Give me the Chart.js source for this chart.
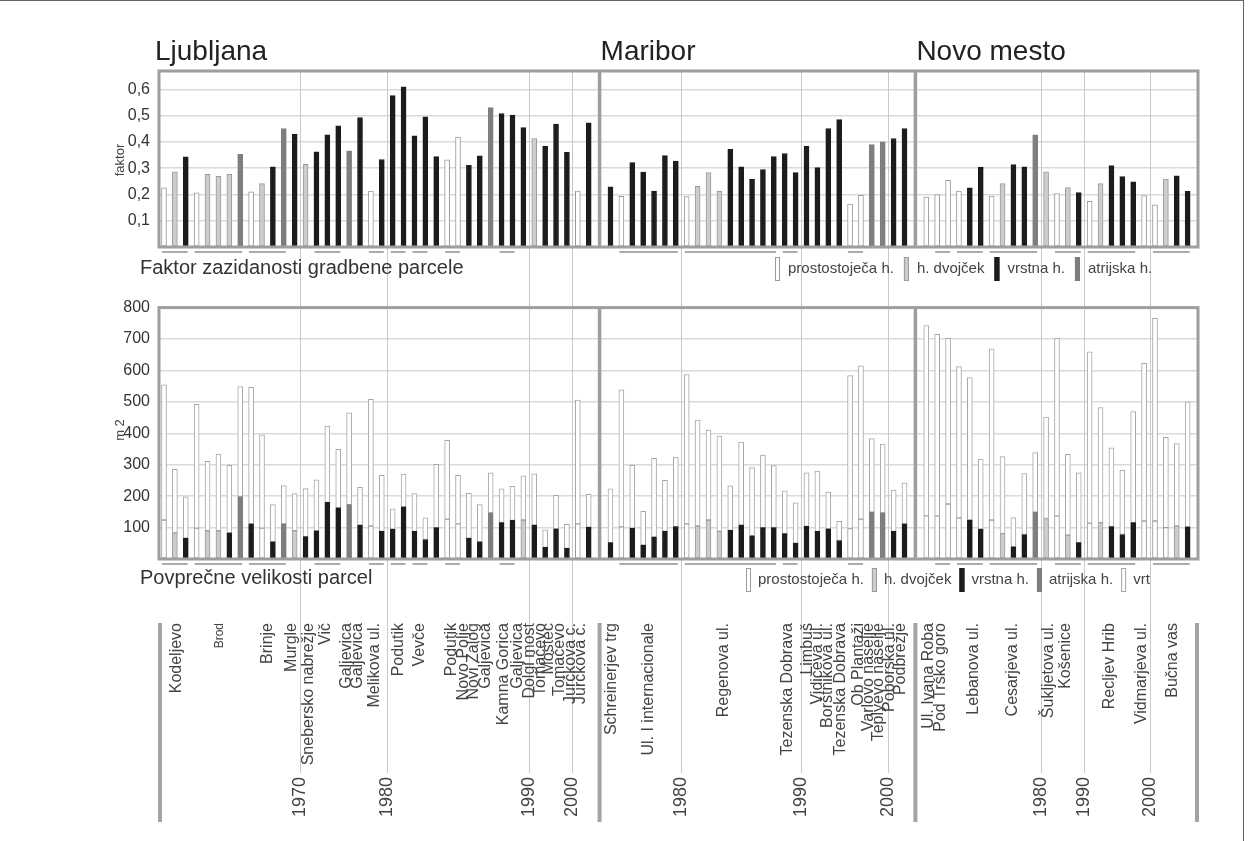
<!DOCTYPE html>
<html>
<head>
<meta charset="utf-8">
<script src="https://cdn.jsdelivr.net/npm/chart.js@4.4.0/dist/chart.umd.min.js"></script>
<style>
  body { margin: 0; background: #fff; }
  #wrap { position: relative; width: 1251px; height: 841px; overflow: hidden; background: #fff; }
  canvas { position: absolute; left: 0; }
  #topChart { top: 0; }
  #bottomChart { top: 290px; }
  .edge-top { position: absolute; left: 0; top: 0; width: 1244px; height: 1px; background: #666; }
  .edge-right { position: absolute; left: 1243px; top: 0; width: 1px; height: 841px; background: #666; }
</style>
</head>
<body>
<div id="wrap">
  <canvas id="topChart" width="1251" height="290"></canvas>
  <canvas id="bottomChart" width="1251" height="551"></canvas>
  <div class="edge-top"></div>
  <div class="edge-right"></div>
</div>
<script>
const FONT = "'Liberation Sans', Arial, sans-serif";

// --- Faktor zazidanosti (building coverage ratio) per estate
const ljFactor = [0.225, 0.286, 0.343, 0.206, 0.277, 0.269, 0.277, 0.353, 0.21, 0.241,
  0.305, 0.451, 0.43, 0.315, 0.362, 0.427, 0.461, 0.366, 0.493, 0.213,
  0.333, 0.576, 0.61, 0.423, 0.496, 0.344, 0.332, 0.418, 0.311, 0.347,
  0.531, 0.508, 0.502, 0.455, 0.413, 0.384, 0.468, 0.36, 0.213, 0.473];
const mbFactor = [0.229, 0.193, 0.321, 0.285, 0.213, 0.348, 0.327, 0.192, 0.231, 0.283,
  0.212, 0.372, 0.305, 0.259, 0.295, 0.344, 0.356, 0.283, 0.384, 0.302,
  0.451, 0.485, 0.163, 0.197, 0.39, 0.40, 0.413, 0.451];
const nmFactor = [0.19, 0.2, 0.254, 0.213, 0.225, 0.304, 0.194, 0.241, 0.314, 0.305,
  0.427, 0.286, 0.203, 0.226, 0.207, 0.174, 0.241, 0.31, 0.268, 0.248,
  0.196, 0.161, 0.259, 0.271, 0.212];

// --- average parcel size (m2) and built part of it
const ljParcel = [554, 285, 198, 492, 311, 334, 298, 549, 546, 395,
  173, 234, 208, 224, 252, 423, 349, 465, 228, 508,
  266, 160, 270, 208, 131, 301, 378, 266, 209, 173,
  274, 223, 231, 265, 271, 93, 203, 110, 506, 206];
const ljHouse = [124, 83, 66, 98, 90, 90, 83, 199, 112, 98,
  55, 112, 90, 71, 90, 180, 163, 173, 108, 105,
  88, 95, 166, 88, 62, 100, 127, 112, 66, 55,
  147, 116, 123, 124, 108, 37, 96, 34, 112, 101];
const mbParcel = [223, 538, 298, 152, 320, 250, 324, 587, 442, 410,
  391, 233, 372, 291, 331, 297, 217, 179, 274, 280,
  213, 120, 584, 615, 383, 366, 219, 242];
const mbHouse = [52, 102, 98, 44, 70, 88, 103, 112, 105, 124,
  88, 91, 108, 74, 100, 100, 81, 50, 104, 88,
  96, 59, 97, 127, 149, 147, 88, 112];
const nmParcel = [743, 715, 702, 612, 577, 318, 669, 326, 132, 272,
  339, 452, 702, 333, 274, 659, 482, 354, 282, 469,
  623, 766, 387, 367, 500];
const nmHouse = [137, 137, 175, 131, 124, 95, 124, 81, 39, 78,
  149, 129, 137, 76, 52, 114, 116, 103, 78, 116,
  121, 121, 100, 105, 102];

// house types: W prostostoječa, D dvojček, V vrstna, A atrijska
const ljTypeTop    = 'WDVWDDDAWDVAVDVVVAVWVVVVVVWWVVAVVVDVVVWV';
const ljTypeBottom = 'WDVWDDVAVWVADVVVVAVWVVVVVVWWVVAVVDVVVVWV';
const mbTypeTop    = 'VWVVVVVWDDDVVVVVVVVVVVWWAAVV';
const mbTypeBottom = 'VWVVVVVWDDDVVVVVVVVVVVWWAAVV';
const nmTypeTop    = 'WWWWVVWDVVADWDVWDVVVWWDVV';
const nmTypeBottom = 'WWWWVVWDVVADWDVWDVVVWWWDV';

// estate names under the plots, anchored at bar slot
const streetNames = ['Kodeljevo', 'Brod', 'Brinje', 'Murgle', 'Snebersko nabrežje', 'Vič',
  'Galjevica', 'Galjevica', 'Melikova ul.', 'Podutik', 'Vevče', 'Podutik', 'Novo Polje',
  'Novi Zalog', 'Galjevica', 'Kamna Gorica', 'Galjevica', 'Dolgi most', 'Tomačevo', 'Mostec',
  'Tomačevo', 'Jurčkova c.', 'Jurčkova c.',
  'Schreinerjev trg', 'Ul. I internacionale', 'Regenova ul.', 'Tezenska Dobrava', 'Limbuš',
  'Vidičeva ul.', 'Borštnikova ul.', 'Tezenska Dobrava', 'Ob Plantaži', 'Varlovo naselje',
  'Teplyevo naselje', 'Poborska ul.', 'Podbrežje',
  'Ul. Ivana Roba', 'Pod Trško goro', 'Lebanova ul.', 'Cesarjeva ul.', 'Šukljetova ul.',
  'Košenice', 'Recljev Hrib', 'Vidmarjeva ul.', 'Bučna vas'];
const streetAt = [1.2, 5.1, 9.5, 11.7, 13.3, 14.8, 16.8, 17.8, 19.3, 21.5, 23.5, 26.4, 27.5,
  28.4, 29.5, 31.2, 32.5, 33.6, 34.6, 35.3, 36.3, 37.3, 38.3,
  41.1, 44.5, 51.4, 57.3, 59.1, 60.0, 60.95, 62.1, 63.8, 64.7, 65.6, 66.6, 67.6,
  70.2, 71.3, 74.3, 77.9, 81.2, 82.8, 86.8, 89.75, 92.6];

// decade marks
const yearLabels = ['1970', '1980', '1990', '2000', '1980', '1990', '2000', '1980', '1990', '2000'];
const yearAt = [12.5, 20.5, 33.5, 37.5, 47.5, 58.5, 66.5, 80.5, 84.5, 90.5];

// groups of estates of the same settlement (first and last bar slot)
const groupFrom = [0, 3, 8, 14, 19, 21, 23, 26, 31, 42, 48, 57, 63, 71, 73, 76, 82, 85, 91];
const groupTo   = [2, 7, 11, 16, 20, 22, 24, 27, 32, 47, 56, 58, 64, 72, 75, 80, 84, 89, 94];

const towns = ['Ljubljana', 'Maribor', 'Novo mesto'];
const legendTop = ['prostostoječa h.', 'h. dvojček', 'vrstna h.', 'atrijska h.'];
const legendBottom = ['prostostoječa h.', 'h. dvojček', 'vrstna h.', 'atrijska h.', 'vrt'];
const factorTicks = [0.1, 0.2, 0.3, 0.4, 0.5, 0.6];
const sizeTicks = [100, 200, 300, 400, 500, 600, 700, 800];

const COLORS = {
  W: ['#ffffff', '#9a9a9a'],
  D: ['#cdcdcd', '#9a9a9a'],
  V: ['#1c1c1c', '#1c1c1c'],
  A: ['#7e7e7e', '#7e7e7e'],
  vrt: ['#ffffff', '#a6a6a6']
};
const LEGEND_KEYS = ['W', 'D', 'V', 'A', 'vrt'];

// three town blocks on one x-axis, with an empty slot between them
const sectionStart = [0, 41, 70];
const dividerAt = [40, 69];

const blocks = [
  { f: ljFactor, p: ljParcel, h: ljHouse, tt: ljTypeTop, tb: ljTypeBottom },
  { f: mbFactor, p: mbParcel, h: mbHouse, tt: mbTypeTop, tb: mbTypeBottom },
  { f: nmFactor, p: nmParcel, h: nmHouse, tt: nmTypeTop, tb: nmTypeBottom }
];

const topPts = [], topFill = [], topEdge = [];
const housePts = [], houseFill = [], houseEdge = [], gardenPts = [];
blocks.forEach((b, k) => {
  b.f.forEach((v, i) => {
    const x = sectionStart[k] + i;
    topPts.push({ x, y: v });
    topFill.push(COLORS[b.tt[i]][0]);
    topEdge.push(COLORS[b.tt[i]][1]);
    housePts.push({ x, y: b.h[i] });
    houseFill.push(COLORS[b.tb[i]][0]);
    houseEdge.push(COLORS[b.tb[i]][1]);
    gardenPts.push({ x, y: [b.h[i], b.p[i]] });
  });
});

function drawLegend(ctx, labels, x0, yc, gapIcon, gapNext) {
  ctx.font = `15px ${FONT}`;
  ctx.textBaseline = 'middle';
  ctx.textAlign = 'left';
  let x = x0;
  labels.forEach((lab, i) => {
    const [fill, edge] = COLORS[LEGEND_KEYS[i]];
    ctx.fillStyle = fill;
    ctx.fillRect(x, yc - 12, 5, 24);
    ctx.strokeStyle = edge;
    ctx.lineWidth = 1;
    ctx.strokeRect(x + 0.5, yc - 11.5, 4, 23);
    x += 5 + gapIcon;
    ctx.fillStyle = '#444';
    ctx.fillText(lab, x, yc);
    x += ctx.measureText(lab).width + gapNext;
  });
}

function rotText(ctx, txt, x, y, align) {
  ctx.save();
  ctx.translate(x, y);
  ctx.rotate(-Math.PI / 2);
  ctx.textAlign = align;
  ctx.textBaseline = 'middle';
  ctx.fillText(txt, 0, 0);
  ctx.restore();
}

function decor(which) {
  const YEAR_BASE = 527;   // bottom of the year labels (bottom canvas)
  const NAME_TOP = 333;    // top of the estate names (bottom canvas)
  const LABEL_END = 532;
  return {
    id: 'decor_' + which,
    beforeDatasetsDraw(chart) {
      const { ctx, chartArea: a, scales: { x } } = chart;
      ctx.save();
      ctx.font = `18px ${FONT}`;
      ctx.strokeStyle = '#c9c9c9';
      ctx.lineWidth = 1;
      yearAt.forEach((j, k) => {
        const px = Math.round(x.getPixelForValue(j)) + 0.5;
        ctx.beginPath();
        if (which === 'top') {
          ctx.moveTo(px, a.top);
          ctx.lineTo(px, chart.height);
        } else {
          const w = ctx.measureText(yearLabels[k]).width;
          ctx.moveTo(px, 0);
          ctx.lineTo(px, YEAR_BASE - w - 4);
        }
        ctx.stroke();
      });
      ctx.restore();
    },
    afterDatasetsDraw(chart) {
      const { ctx, chartArea: a, scales: { x } } = chart;
      ctx.save();
      // settlement groups under the plot
      ctx.strokeStyle = '#ababab';
      ctx.lineWidth = 2;
      groupFrom.forEach((g, k) => {
        ctx.beginPath();
        ctx.moveTo(x.getPixelForValue(g) - 2, a.bottom + 5);
        ctx.lineTo(x.getPixelForValue(groupTo[k]) + 2, a.bottom + 5);
        ctx.stroke();
      });
      // town dividers
      ctx.strokeStyle = '#9e9e9e';
      ctx.lineWidth = 3.5;
      dividerAt.forEach(j => {
        const px = x.getPixelForValue(j);
        ctx.beginPath();
        ctx.moveTo(px, a.top);
        ctx.lineTo(px, a.bottom);
        ctx.stroke();
      });
      // frame
      ctx.lineWidth = 3;
      ctx.strokeRect(a.left + 1, a.top, a.right - a.left - 1, a.bottom - a.top);
      ctx.restore();
    },
    afterDraw(chart) {
      const { ctx, chartArea: a, scales: { x } } = chart;
      ctx.save();
      ctx.fillStyle = '#333';
      if (which === 'top') {
        ctx.font = `28px ${FONT}`;
        ctx.textBaseline = 'alphabetic';
        ctx.textAlign = 'left';
        ctx.fillStyle = '#222';
        ctx.fillText(towns[0], a.left - 3, 60);
        ctx.fillText(towns[1], x.getPixelForValue(dividerAt[0]) + 1, 60);
        ctx.fillText(towns[2], x.getPixelForValue(dividerAt[1]) + 1, 60);
        ctx.font = `20px ${FONT}`;
        ctx.textBaseline = 'middle';
        ctx.fillStyle = '#333';
        ctx.fillText('Faktor zazidanosti gradbene parcele', 140, 268);
        ctx.font = `13px ${FONT}`;
        ctx.fillStyle = '#444';
        rotText(ctx, 'faktor', 120, 160, 'center');
        drawLegend(ctx, legendTop, 775, 269, 8, 10);
      } else {
        ctx.font = `20px ${FONT}`;
        ctx.textBaseline = 'middle';
        ctx.textAlign = 'left';
        ctx.fillText('Povprečne velikosti parcel', 140, 288);
        ctx.font = `13px ${FONT}`;
        ctx.fillStyle = '#444';
        rotText(ctx, 'm 2', 120, 140, 'center');
        drawLegend(ctx, legendBottom, 746, 290, 7, 8);

        // bars bounding the name area
        ctx.fillStyle = '#a3a3a3';
        const edges = [a.left + 2, x.getPixelForValue(dividerAt[0]), x.getPixelForValue(dividerAt[1]), a.right - 1];
        edges.forEach(px => ctx.fillRect(px - 2, NAME_TOP, 4, LABEL_END - NAME_TOP));

        ctx.fillStyle = '#444';
        streetNames.forEach((n, k) => {
          ctx.font = (n === 'Brod' ? 12 : 16) + `px ${FONT}`;
          rotText(ctx, n, x.getPixelForValue(streetAt[k]), NAME_TOP, 'right');
        });
        ctx.font = `18px ${FONT}`;
        yearLabels.forEach((t, k) => {
          rotText(ctx, t, x.getPixelForValue(yearAt[k]), YEAR_BASE, 'left');
        });
      }
      ctx.restore();
    }
  };
}

function xScale() {
  return { type: 'linear', min: -0.55, max: 94.95, offset: false, display: false, grid: { offset: false } };
}

function yScale(max, ticks, fmt) {
  return {
    min: 0, max,
    afterFit(s) { s.width = 158; },
    afterBuildTicks(s) { s.ticks = [0].concat(ticks).map(v => ({ value: v })); },
    border: { display: false },
    grid: { color: '#dadada', lineWidth: 1.5, drawTicks: false },
    ticks: {
      padding: 8,
      color: '#333',
      font: { family: FONT, size: 16 },
      callback: v => (v === 0 ? '' : fmt(v))
    }
  };
}

new Chart(document.getElementById('topChart'), {
  type: 'bar',
  data: {
    datasets: [{
      data: topPts,
      backgroundColor: topFill,
      borderColor: topEdge,
      borderWidth: 1,
      borderSkipped: false,
      barThickness: 5
    }]
  },
  options: {
    responsive: false,
    animation: false,
    layout: { padding: { left: 0, right: 53, top: 71, bottom: 43 } },
    plugins: { legend: { display: false }, tooltip: { enabled: false } },
    scales: {
      x: xScale(),
      y: yScale(0.67, factorTicks, v => v.toFixed(1).replace('.', ','))
    }
  },
  plugins: [decor('top')]
});

new Chart(document.getElementById('bottomChart'), {
  type: 'bar',
  data: {
    datasets: [{
      label: 'hiša',
      data: housePts,
      backgroundColor: houseFill,
      borderColor: houseEdge,
      borderWidth: 1,
      borderSkipped: false,
      barThickness: 5,
      grouped: false
    }, {
      label: 'vrt',
      data: gardenPts,
      backgroundColor: COLORS.vrt[0],
      borderColor: COLORS.vrt[1],
      borderWidth: 1,
      borderSkipped: false,
      barThickness: 5,
      grouped: false
    }]
  },
  options: {
    responsive: false,
    animation: false,
    layout: { padding: { left: 0, right: 53, top: 8, bottom: 282 } },
    plugins: { legend: { display: false }, tooltip: { enabled: false } },
    scales: {
      x: xScale(),
      y: yScale(800, sizeTicks, v => String(v))
    }
  },
  plugins: [decor('bottom')]
});
</script>
</body>
</html>
